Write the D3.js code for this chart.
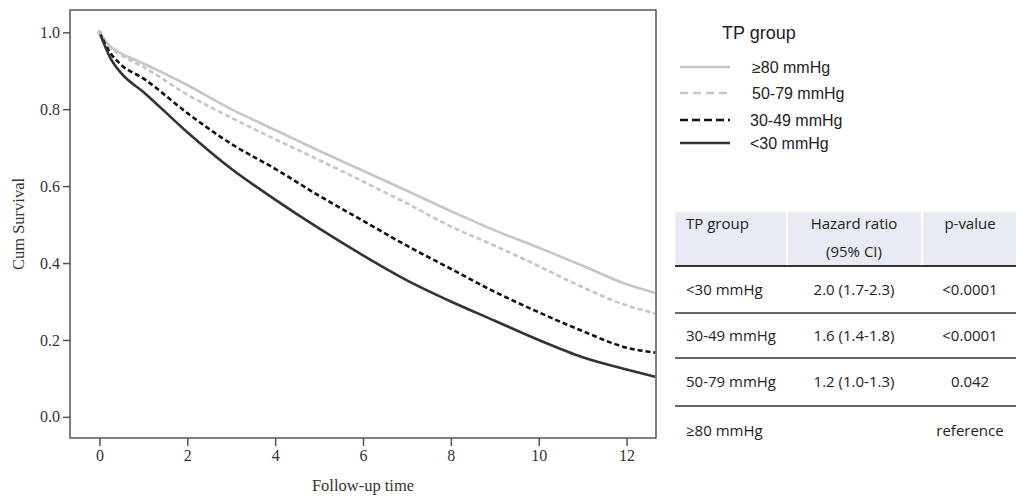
<!DOCTYPE html>
<html>
<head>
<meta charset="utf-8">
<script src="https://cdn.jsdelivr.net/npm/d3@7"></script>
<style>
  body { margin: 0; background: #fff; }
  svg { display: block; }
</style>
</head>
<body>
<svg id="chart" width="1016" height="500"></svg>
<script>
// follow-up times the curves were read at
const times = [0, 0.25, 0.5, 1, 2, 3, 4, 5, 6, 7, 8, 9, 10, 11, 12, 12.65];

// cumulative survival per TP group
const surv80 = [1, 0.963, 0.945, 0.919, 0.863, 0.800, 0.746, 0.692, 0.640, 0.588, 0.535, 0.485, 0.440, 0.393, 0.345, 0.323];
const surv50 = [1, 0.960, 0.940, 0.910, 0.838, 0.778, 0.722, 0.668, 0.612, 0.555, 0.495, 0.445, 0.392, 0.337, 0.290, 0.269];
const surv30 = [1, 0.946, 0.915, 0.880, 0.790, 0.710, 0.645, 0.575, 0.510, 0.445, 0.385, 0.325, 0.272, 0.223, 0.180, 0.167];
const survLt30 = [1, 0.933, 0.893, 0.845, 0.740, 0.645, 0.565, 0.490, 0.420, 0.355, 0.300, 0.250, 0.200, 0.155, 0.123, 0.104];

const groups = ["\u226580 mmHg", "50-79 mmHg", "30-49 mmHg", "<30 mmHg"];
const xTicks = [0, 2, 4, 6, 8, 10, 12];
const yTicks = [0, 0.2, 0.4, 0.6, 0.8, 1.0];

// hazard ratio table
const tableHeader = ["TP group", "Hazard ratio", "p-value"];
const tableRows = ["<30 mmHg", "30-49 mmHg", "50-79 mmHg", "\u226580 mmHg"];
const hazardRatios = ["2.0 (1.7-2.3)", "1.6 (1.4-1.8)", "1.2 (1.0-1.3)", ""];
const pValues = ["<0.0001", "<0.0001", "0.042", "reference"];

const svg = d3.select("#chart");

const x = d3.scaleLinear().domain([-0.67, 12.67]).range([70, 656]);
const y = d3.scaleLinear().domain([-0.055, 1.058]).range([438, 10]);

// frame
svg.append("rect")
  .attr("x", 70).attr("y", 10)
  .attr("width", 586).attr("height", 428)
  .attr("fill", "none")
  .attr("stroke", "#555")
  .attr("stroke-width", 1.5);

const xAxis = d3.axisBottom(x).tickValues(xTicks).tickSize(8).tickPadding(4).tickFormat(d3.format("d"));
const yAxis = d3.axisLeft(y).tickValues(yTicks).tickSize(7).tickPadding(3).tickFormat(d3.format(".1f"));

const gx = svg.append("g").attr("transform", "translate(0,438)").call(xAxis);
const gy = svg.append("g").attr("transform", "translate(70,0)").call(yAxis);

[gx, gy].forEach(g => {
  g.select(".domain").remove();
  g.selectAll("line").attr("stroke", "#555").attr("stroke-width", 1.5);
  g.selectAll("text")
    .attr("fill", "#333")
    .style("font-family", "'Liberation Serif', 'Times New Roman', serif")
    .style("font-size", "16px");
});

svg.append("text")
  .attr("x", 363).attr("y", 491)
  .attr("text-anchor", "middle")
  .attr("fill", "#333")
  .style("font-family", "'Liberation Serif', serif")
  .style("font-size", "16.5px")
  .text("Follow-up time");

svg.append("text")
  .attr("transform", "translate(24,224) rotate(-90)")
  .attr("text-anchor", "middle")
  .attr("fill", "#333")
  .style("font-family", "'Liberation Serif', serif")
  .style("font-size", "16.5px")
  .text("Cum Survival");

// curves
const styles = [
  { color: "#c6c6c6", dash: null, legendDash: null },
  { color: "#c6c6c6", dash: "5,3", legendDash: "8,5" },
  { color: "#111", dash: "5,3", legendDash: "8,4" },
  { color: "#333", dash: null, legendDash: null }
];
const series = [surv80, surv50, surv30, survLt30];

const line = d3.line()
  .x(d => x(d[0]))
  .y(d => y(d[1]))
  .curve(d3.curveMonotoneX);

series.forEach((s, i) => {
  svg.append("path")
    .datum(times.map((t, j) => [t, s[j]]))
    .attr("d", line)
    .attr("fill", "none")
    .attr("stroke", styles[i].color)
    .attr("stroke-width", 2.6)
    .attr("stroke-dasharray", styles[i].dash);
});

svg.append("circle")
  .attr("cx", x(0)).attr("cy", y(1)).attr("r", 2.5)
  .attr("fill", "#c6c6c6");

// legend
svg.append("text")
  .attr("x", 722).attr("y", 39)
  .attr("fill", "#222")
  .style("font-family", "'Liberation Sans', Arial, sans-serif")
  .style("font-size", "18px")
  .text("TP group");

const legendY = [67, 93, 120, 143];
const legendTextX = [752, 752, 750, 750];
groups.forEach((g, i) => {
  svg.append("line")
    .attr("x1", 680).attr("x2", 730)
    .attr("y1", legendY[i]).attr("y2", legendY[i])
    .attr("stroke", styles[i].color)
    .attr("stroke-width", 2.6)
    .attr("stroke-dasharray", styles[i].legendDash);
  svg.append("text")
    .attr("x", legendTextX[i]).attr("y", legendY[i] + 6)
    .attr("fill", "#222")
    .style("font-family", "'Liberation Sans', Arial, sans-serif")
    .style("font-size", "16px")
    .text(g);
});

// table
const tLeft = 675, tRight = 1016;
const colCenters = [null, 854, 970];
const tableFont = "'Open Sans', sans-serif";

svg.append("rect")
  .attr("x", tLeft).attr("y", 212)
  .attr("width", tRight - tLeft).attr("height", 54)
  .attr("fill", "#e8ebf3");
[787, 922].forEach(cx => {
  svg.append("line")
    .attr("x1", cx).attr("x2", cx).attr("y1", 212).attr("y2", 266)
    .attr("stroke", "#fff").attr("stroke-width", 2);
});

const tText = (tx, ty, str, anchor) => svg.append("text")
  .attr("x", tx).attr("y", ty)
  .attr("text-anchor", anchor)
  .attr("fill", "#222")
  .style("font-family", tableFont)
  .style("font-size", "15px")
  .text(str);

tText(686, 229, tableHeader[0], "start");
tText(colCenters[1], 229, tableHeader[1], "middle");
tText(colCenters[1], 257, "(95% CI)", "middle");
tText(colCenters[2], 229, tableHeader[2], "middle");

const lineYs = [266, 313, 358, 406];
lineYs.forEach((ly, i) => {
  svg.append("line")
    .attr("x1", tLeft).attr("x2", tRight)
    .attr("y1", ly).attr("y2", ly)
    .attr("stroke", "#333")
    .attr("stroke-width", i === 0 ? 2 : 1.5);
});

const rowBase = [295, 341, 387, 436];
tableRows.forEach((r, i) => {
  tText(686, rowBase[i], r, "start");
  tText(colCenters[1], rowBase[i], hazardRatios[i], "middle");
  tText(colCenters[2], rowBase[i], pValues[i], "middle");
});
</script>
</body>
</html>
